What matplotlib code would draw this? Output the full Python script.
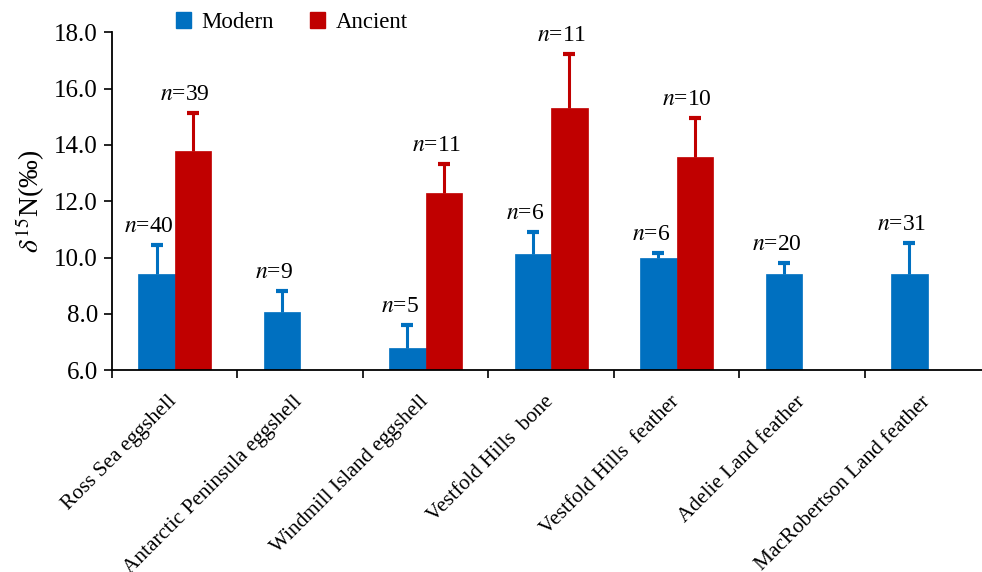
import numpy as np
import matplotlib
matplotlib.use("Agg")
import matplotlib.pyplot as plt
import matplotlib.transforms as mtransforms
from matplotlib.patches import Patch

plt.rcParams['font.family'] = ['Liberation Serif', 'DejaVu Serif']
plt.rcParams['mathtext.fontset'] = 'stix'

categories = ["Ross Sea eggshell", "Antarctic Peninsula eggshell", "Windmill Island eggshell",
              "Vestfold Hills  bone", "Vestfold Hills  feather", "Adelie Land feather",
              "MacRobertson Land feather"]

# mean values and upper error (SD), None = no data
modern = [9.41, 8.05, 6.77, 10.11, 10.0, 9.41, 9.41]
modern_err = [1.03, 0.76, 0.83, 0.78, 0.16, 0.38, 1.09]
modern_n = [40, 9, 5, 6, 6, 20, 31]

ancient = [13.79, None, 12.28, 15.32, 13.58, None, None]
ancient_err = [1.33, None, 1.03, 1.90, 1.36, None, None]
ancient_n = [39, None, 11, 11, 10, None, None]

blue = "#0070C0"
red = "#C00000"

fig = plt.figure(figsize=(9.82, 5.72), dpi=100)
ax = fig.add_axes([0.114, 0.353, 0.8946, 0.5904])

x = np.arange(len(categories))
w = 0.29

def draw(xs, vals, errs, ns, color):
    for xi, v, e, n in zip(xs, vals, errs, ns):
        if v is None:
            continue
        ax.bar(xi, v - 6.0, bottom=6.0, width=w, color=color, edgecolor=color, linewidth=0.5)
        eb = ax.errorbar(xi, v, yerr=[[0], [e]], fmt='none', ecolor=color,
                         elinewidth=2.2, capsize=4, capthick=3)
        eb[1][0].set_visible(False)  # no lower cap
        ax.text(xi - 0.06, v + e + 0.3, r'$n$=%d' % n, ha='center', va='bottom', fontsize=17)

draw(x - w / 2, modern, modern_err, modern_n, blue)
draw(x + w / 2, ancient, ancient_err, ancient_n, red)

ax.set_xlim(-0.5, len(categories) - 0.5)
ax.set_ylim(6.0, 18.0)
ax.set_yticks(np.arange(6, 18.1, 2))
ax.set_yticklabels(["%.1f" % t for t in np.arange(6, 18.1, 2)], fontsize=18)
ax.set_xticks(np.arange(-0.5, len(categories), 1.0))
ax.set_xticklabels([])
ax.set_xticks(x, minor=True)
ax.set_xticklabels(categories, minor=True, rotation=45, ha='right',
                   rotation_mode='anchor', fontsize=15.3)
ax.tick_params(axis='x', which='minor', length=0, pad=16)
ax.tick_params(axis='x', which='major', length=6, width=1.2, direction='out')
ax.tick_params(axis='y', length=6, width=1.2, direction='out', pad=4)

shift = mtransforms.ScaledTranslation(-7 / 100, 0, fig.dpi_scale_trans)
for lab in ax.get_xticklabels(minor=True):
    lab.set_transform(lab.get_transform() + shift)

for s in ['top', 'right']:
    ax.spines[s].set_visible(False)
for s in ['left', 'bottom']:
    ax.spines[s].set_linewidth(1.3)

ax.set_ylabel(r'$\delta^{15}$N(‰)', fontsize=20, labelpad=5)

handles = [Patch(color=blue, label='Modern'), Patch(color=red, label='Ancient')]
fig.legend(handles=handles, loc='upper left', bbox_to_anchor=(0.158, 1.015), ncol=2,
           frameon=False, fontsize=16.5, handlelength=0.65, handleheight=0.65,
           handletextpad=0.45, columnspacing=1.6)

fig.savefig("out.png", dpi=100)
